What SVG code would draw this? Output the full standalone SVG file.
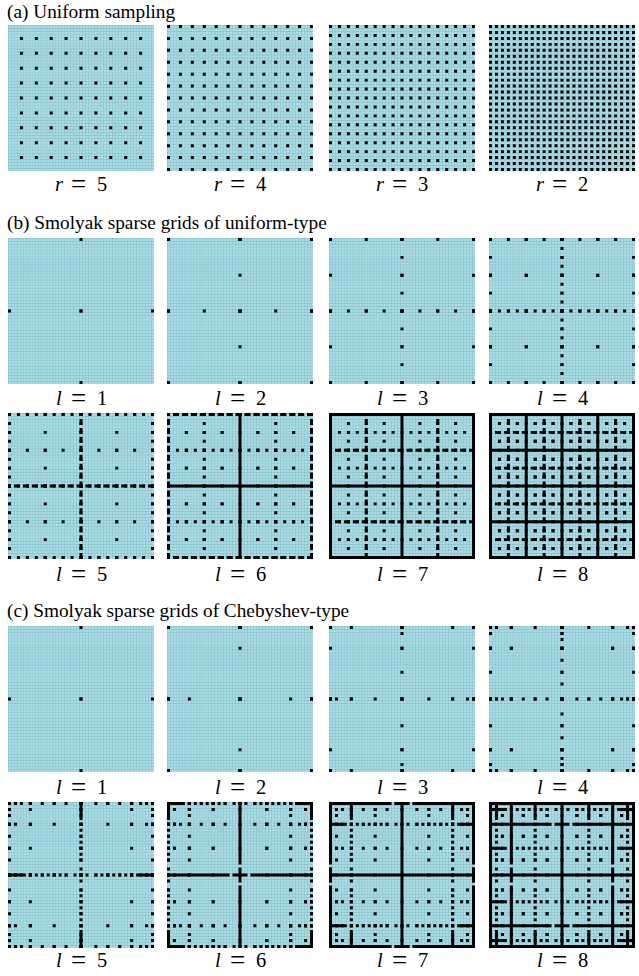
<svg xmlns="http://www.w3.org/2000/svg" xmlns:xlink="http://www.w3.org/1999/xlink" width="639" height="976" viewBox="0 0 639 976">
<defs>
<style>
.t{font-family:"Liberation Serif","Times New Roman",serif;font-size:19.3px;fill:#000}
.lab{font-family:"Liberation Serif","Times New Roman",serif;font-size:20.5px;fill:#000}
.v{font-style:italic}
.eq{font-size:27px}
.k{stroke:#000;stroke-width:1;fill:none}
.u2{stroke-dasharray:1 23 1 23 1 10}
.u3{stroke-dasharray:1 11}
.u4{stroke-dasharray:1 5}
.u5{stroke-dasharray:1 2}
.u6{stroke-dasharray:2 1;stroke-dashoffset:1}
.a5{stroke-dasharray:1 4}
.a4{stroke-dasharray:1 3}
.a2{stroke-dasharray:1 1}
.c3{stroke-dasharray:1 6 1 16 1 16 1 6 1 10}
.c4{stroke-dasharray:1 1 1 4 1 7 1 8 1 8 1 7 1 4 1 1 1 10}
.c5{stroke-dasharray:1 1 1 1 1 2 1 3 1 3 1 3 1 4 1 4 1 3 1 3 1 3 1 2 1 1 1 1 1 10}
.c6{stroke-dasharray:6 1 1 1 1 1 1 1 1 1 1 1 1 1 1 2 1 1 1 1 1 2 1 1 1 1 1 1 1 1 1 1 1 1 1 1 6 10}
.c7{stroke-dasharray:21 1 5 1 21 10}
</style>
<g id="mesh">
<rect width="49" height="49" fill="#a9dde6"/>
<line x1="0" y1="24.5" x2="49" y2="24.5" stroke="#80b8c2" stroke-width="49" stroke-dasharray="0.14 0.86"/>
<line x1="24.5" y1="0" x2="24.5" y2="49" stroke="#80b8c2" stroke-width="49" stroke-dasharray="0.14 0.86"/>
</g>
<line id="r2" class="k u2" x1="0" y1="0.5" x2="49" y2="0.5"/>
<line id="r3" class="k u3" x1="0" y1="0.5" x2="49" y2="0.5"/>
<line id="r4" class="k u4" x1="0" y1="0.5" x2="49" y2="0.5"/>
<line id="r5" class="k u5" x1="0" y1="0.5" x2="49" y2="0.5"/>
<line id="r6" class="k u6" x1="0" y1="0.5" x2="49" y2="0.5"/>
<line id="rs" class="k" x1="0" y1="0.5" x2="49" y2="0.5"/>
<line id="c3" class="k c3" x1="0" y1="0.5" x2="49" y2="0.5"/>
<line id="c4" class="k c4" x1="0" y1="0.5" x2="49" y2="0.5"/>
<line id="c5" class="k c5" x1="0" y1="0.5" x2="49" y2="0.5"/>
<line id="c6" class="k c6" x1="0" y1="0.5" x2="49" y2="0.5"/>
<line id="c7" class="k c7" x1="0" y1="0.5" x2="49" y2="0.5"/>
<line id="ra5" class="k a5" x1="4" y1="0.5" x2="45" y2="0.5"/>
<line id="ra4" class="k a4" x1="0" y1="0.5" x2="49" y2="0.5"/>
<line id="ra2" class="k a2" x1="0" y1="0.5" x2="49" y2="0.5"/>
<g id="ga5"><use href="#ra5" y="4"/><use href="#ra5" y="9"/><use href="#ra5" y="14"/><use href="#ra5" y="19"/><use href="#ra5" y="24"/><use href="#ra5" y="29"/><use href="#ra5" y="34"/><use href="#ra5" y="39"/><use href="#ra5" y="44"/></g>
<g id="ga4"><use href="#ra4" y="0"/><use href="#ra4" y="4"/><use href="#ra4" y="8"/><use href="#ra4" y="12"/><use href="#ra4" y="16"/><use href="#ra4" y="20"/><use href="#ra4" y="24"/><use href="#ra4" y="28"/><use href="#ra4" y="32"/><use href="#ra4" y="36"/><use href="#ra4" y="40"/><use href="#ra4" y="44"/><use href="#ra4" y="48"/></g>
<g id="ga3"><use href="#r5" y="0"/><use href="#r5" y="3"/><use href="#r5" y="6"/><use href="#r5" y="9"/><use href="#r5" y="12"/><use href="#r5" y="15"/><use href="#r5" y="18"/><use href="#r5" y="21"/><use href="#r5" y="24"/><use href="#r5" y="27"/><use href="#r5" y="30"/><use href="#r5" y="33"/><use href="#r5" y="36"/><use href="#r5" y="39"/><use href="#r5" y="42"/><use href="#r5" y="45"/><use href="#r5" y="48"/></g>
<g id="ga2"><use href="#ra2" y="0"/><use href="#ra2" y="2"/><use href="#ra2" y="4"/><use href="#ra2" y="6"/><use href="#ra2" y="8"/><use href="#ra2" y="10"/><use href="#ra2" y="12"/><use href="#ra2" y="14"/><use href="#ra2" y="16"/><use href="#ra2" y="18"/><use href="#ra2" y="20"/><use href="#ra2" y="22"/><use href="#ra2" y="24"/><use href="#ra2" y="26"/><use href="#ra2" y="28"/><use href="#ra2" y="30"/><use href="#ra2" y="32"/><use href="#ra2" y="34"/><use href="#ra2" y="36"/><use href="#ra2" y="38"/><use href="#ra2" y="40"/><use href="#ra2" y="42"/><use href="#ra2" y="44"/><use href="#ra2" y="46"/><use href="#ra2" y="48"/></g>
<g id="hb1"><use href="#r2" y="24"/></g>
<g id="hb2"><use href="#r3" y="24"/><use href="#r2" y="0"/><use href="#r2" y="24"/><use href="#r2" y="48"/></g>
<g id="hb3"><use href="#r4" y="24"/><use href="#r3" y="0"/><use href="#r3" y="24"/><use href="#r3" y="48"/></g>
<g id="hb4"><use href="#r5" y="24"/><use href="#r4" y="0"/><use href="#r4" y="24"/><use href="#r4" y="48"/><use href="#r3" y="0"/><use href="#r3" y="12"/><use href="#r3" y="24"/><use href="#r3" y="36"/><use href="#r3" y="48"/></g>
<g id="hb5"><use href="#r6" y="24"/><use href="#r5" y="0"/><use href="#r5" y="24"/><use href="#r5" y="48"/><use href="#r4" y="0"/><use href="#r4" y="12"/><use href="#r4" y="24"/><use href="#r4" y="36"/><use href="#r4" y="48"/></g>
<g id="hb6"><use href="#rs" y="24"/><use href="#r6" y="0"/><use href="#r6" y="48"/><use href="#r5" y="0"/><use href="#r5" y="12"/><use href="#r5" y="36"/><use href="#r5" y="48"/><use href="#r4" y="0"/><use href="#r4" y="6"/><use href="#r4" y="12"/><use href="#r4" y="18"/><use href="#r4" y="30"/><use href="#r4" y="36"/><use href="#r4" y="42"/><use href="#r4" y="48"/></g>
<g id="hb7"><use href="#rs" y="0"/><use href="#rs" y="24"/><use href="#rs" y="48"/><use href="#r6" y="12"/><use href="#r6" y="36"/><use href="#r5" y="6"/><use href="#r5" y="12"/><use href="#r5" y="18"/><use href="#r5" y="30"/><use href="#r5" y="36"/><use href="#r5" y="42"/></g>
<g id="hb8"><use href="#rs" y="0"/><use href="#rs" y="12"/><use href="#rs" y="24"/><use href="#rs" y="36"/><use href="#rs" y="48"/><use href="#r6" y="6"/><use href="#r6" y="18"/><use href="#r6" y="30"/><use href="#r6" y="42"/><use href="#r5" y="3"/><use href="#r5" y="6"/><use href="#r5" y="9"/><use href="#r5" y="15"/><use href="#r5" y="18"/><use href="#r5" y="21"/><use href="#r5" y="27"/><use href="#r5" y="30"/><use href="#r5" y="33"/><use href="#r5" y="39"/><use href="#r5" y="42"/><use href="#r5" y="45"/></g>
<g id="hc1"><use href="#r2" y="24"/></g>
<g id="hc2"><use href="#c3" y="24"/><use href="#r2" y="0"/><use href="#r2" y="24"/><use href="#r2" y="48"/></g>
<g id="hc3"><use href="#c4" y="24"/><use href="#c3" y="0"/><use href="#c3" y="24"/><use href="#c3" y="48"/></g>
<g id="hc4"><use href="#c5" y="24"/><use href="#c4" y="0"/><use href="#c4" y="24"/><use href="#c4" y="48"/><use href="#c3" y="0"/><use href="#c3" y="7"/><use href="#c3" y="24"/><use href="#c3" y="41"/><use href="#c3" y="48"/></g>
<g id="hc5"><use href="#c6" y="24"/><use href="#c5" y="0"/><use href="#c5" y="24"/><use href="#c5" y="48"/><use href="#c4" y="0"/><use href="#c4" y="7"/><use href="#c4" y="24"/><use href="#c4" y="41"/><use href="#c4" y="48"/></g>
<g id="hc6"><use href="#c7" y="24"/><use href="#c6" y="0"/><use href="#c6" y="48"/><use href="#c5" y="0"/><use href="#c5" y="7"/><use href="#c5" y="41"/><use href="#c5" y="48"/><use href="#c4" y="0"/><use href="#c4" y="2"/><use href="#c4" y="7"/><use href="#c4" y="15"/><use href="#c4" y="33"/><use href="#c4" y="41"/><use href="#c4" y="46"/><use href="#c4" y="48"/></g>
<g id="hc7"><use href="#rs" y="24"/><use href="#c7" y="0"/><use href="#c7" y="48"/><use href="#c6" y="0"/><use href="#c6" y="7"/><use href="#c6" y="41"/><use href="#c6" y="48"/><use href="#c5" y="0"/><use href="#c5" y="2"/><use href="#c5" y="7"/><use href="#c5" y="15"/><use href="#c5" y="33"/><use href="#c5" y="41"/><use href="#c5" y="46"/><use href="#c5" y="48"/></g>
<g id="hc8"><use href="#rs" y="0"/><use href="#rs" y="24"/><use href="#rs" y="48"/><use href="#c7" y="7"/><use href="#c7" y="41"/><use href="#c6" y="2"/><use href="#c6" y="15"/><use href="#c6" y="33"/><use href="#c6" y="46"/><use href="#c5" y="4"/><use href="#c5" y="11"/><use href="#c5" y="19"/><use href="#c5" y="29"/><use href="#c5" y="37"/><use href="#c5" y="44"/></g>
</defs>

<g id="titles">
<text class="t" x="7" y="18">(a) Uniform sampling</text>
<text class="t" x="7" y="229">(b) Smolyak sparse grids of uniform-type</text>
<text class="t" x="7" y="617">(c) Smolyak sparse grids of Chebyshev-type</text>
</g>

<g id="panel-a-r5" transform="translate(8,25) scale(2.9796)"><use href="#mesh"/><use href="#ga5"/></g>
<g id="panel-a-r4" transform="translate(167,25) scale(2.9796)"><use href="#mesh"/><use href="#ga4"/></g>
<g id="panel-a-r3" transform="translate(329,25) scale(2.9796)"><use href="#mesh"/><use href="#ga3"/></g>
<g id="panel-a-r2" transform="translate(489,25) scale(2.9796)"><use href="#mesh"/><use href="#ga2"/></g>

<g id="panel-b-l1" transform="translate(8,238) scale(2.9796)"><use href="#mesh"/><use href="#hb1"/><use href="#hb1" transform="matrix(0 1 1 0 0 0)"/></g>
<g id="panel-b-l2" transform="translate(167,238) scale(2.9796)"><use href="#mesh"/><use href="#hb2"/><use href="#hb2" transform="matrix(0 1 1 0 0 0)"/></g>
<g id="panel-b-l3" transform="translate(329,238) scale(2.9796)"><use href="#mesh"/><use href="#hb3"/><use href="#hb3" transform="matrix(0 1 1 0 0 0)"/></g>
<g id="panel-b-l4" transform="translate(489,238) scale(2.9796)"><use href="#mesh"/><use href="#hb4"/><use href="#hb4" transform="matrix(0 1 1 0 0 0)"/></g>
<g id="panel-b-l5" transform="translate(8,413) scale(2.9796)"><use href="#mesh"/><use href="#hb5"/><use href="#hb5" transform="matrix(0 1 1 0 0 0)"/></g>
<g id="panel-b-l6" transform="translate(167,413) scale(2.9796)"><use href="#mesh"/><use href="#hb6"/><use href="#hb6" transform="matrix(0 1 1 0 0 0)"/></g>
<g id="panel-b-l7" transform="translate(329,413) scale(2.9796)"><use href="#mesh"/><use href="#hb7"/><use href="#hb7" transform="matrix(0 1 1 0 0 0)"/></g>
<g id="panel-b-l8" transform="translate(489,413) scale(2.9796)"><use href="#mesh"/><use href="#hb8"/><use href="#hb8" transform="matrix(0 1 1 0 0 0)"/></g>

<g id="panel-c-l1" transform="translate(8,626) scale(2.9796)"><use href="#mesh"/><use href="#hc1"/><use href="#hc1" transform="matrix(0 1 1 0 0 0)"/></g>
<g id="panel-c-l2" transform="translate(167,626) scale(2.9796)"><use href="#mesh"/><use href="#hc2"/><use href="#hc2" transform="matrix(0 1 1 0 0 0)"/></g>
<g id="panel-c-l3" transform="translate(329,626) scale(2.9796)"><use href="#mesh"/><use href="#hc3"/><use href="#hc3" transform="matrix(0 1 1 0 0 0)"/></g>
<g id="panel-c-l4" transform="translate(489,626) scale(2.9796)"><use href="#mesh"/><use href="#hc4"/><use href="#hc4" transform="matrix(0 1 1 0 0 0)"/></g>
<g id="panel-c-l5" transform="translate(8,802) scale(2.9796)"><use href="#mesh"/><use href="#hc5"/><use href="#hc5" transform="matrix(0 1 1 0 0 0)"/></g>
<g id="panel-c-l6" transform="translate(167,802) scale(2.9796)"><use href="#mesh"/><use href="#hc6"/><use href="#hc6" transform="matrix(0 1 1 0 0 0)"/></g>
<g id="panel-c-l7" transform="translate(329,802) scale(2.9796)"><use href="#mesh"/><use href="#hc7"/><use href="#hc7" transform="matrix(0 1 1 0 0 0)"/></g>
<g id="panel-c-l8" transform="translate(489,802) scale(2.9796)"><use href="#mesh"/><use href="#hc8"/><use href="#hc8" transform="matrix(0 1 1 0 0 0)"/></g>

<g id="labels">
<text class="lab" y="191"><tspan class="v" x="55">r</tspan><tspan class="eq" x="71" dy="1.5">=</tspan><tspan x="97" dy="-1.5">5</tspan></text>
<text class="lab" y="191"><tspan class="v" x="214">r</tspan><tspan class="eq" x="230" dy="1.5">=</tspan><tspan x="256" dy="-1.5">4</tspan></text>
<text class="lab" y="191"><tspan class="v" x="376">r</tspan><tspan class="eq" x="392" dy="1.5">=</tspan><tspan x="418" dy="-1.5">3</tspan></text>
<text class="lab" y="191"><tspan class="v" x="536">r</tspan><tspan class="eq" x="552" dy="1.5">=</tspan><tspan x="578" dy="-1.5">2</tspan></text>
<text class="lab" y="405"><tspan class="v" x="56">l</tspan><tspan class="eq" x="71" dy="1.5">=</tspan><tspan x="97" dy="-1.5">1</tspan></text>
<text class="lab" y="405"><tspan class="v" x="215">l</tspan><tspan class="eq" x="230" dy="1.5">=</tspan><tspan x="256" dy="-1.5">2</tspan></text>
<text class="lab" y="405"><tspan class="v" x="377">l</tspan><tspan class="eq" x="392" dy="1.5">=</tspan><tspan x="418" dy="-1.5">3</tspan></text>
<text class="lab" y="405"><tspan class="v" x="537">l</tspan><tspan class="eq" x="552" dy="1.5">=</tspan><tspan x="578" dy="-1.5">4</tspan></text>
<text class="lab" y="581"><tspan class="v" x="56">l</tspan><tspan class="eq" x="71" dy="1.5">=</tspan><tspan x="97" dy="-1.5">5</tspan></text>
<text class="lab" y="581"><tspan class="v" x="215">l</tspan><tspan class="eq" x="230" dy="1.5">=</tspan><tspan x="256" dy="-1.5">6</tspan></text>
<text class="lab" y="581"><tspan class="v" x="377">l</tspan><tspan class="eq" x="392" dy="1.5">=</tspan><tspan x="418" dy="-1.5">7</tspan></text>
<text class="lab" y="581"><tspan class="v" x="537">l</tspan><tspan class="eq" x="552" dy="1.5">=</tspan><tspan x="578" dy="-1.5">8</tspan></text>
<text class="lab" y="794"><tspan class="v" x="56">l</tspan><tspan class="eq" x="71" dy="1.5">=</tspan><tspan x="97" dy="-1.5">1</tspan></text>
<text class="lab" y="794"><tspan class="v" x="215">l</tspan><tspan class="eq" x="230" dy="1.5">=</tspan><tspan x="256" dy="-1.5">2</tspan></text>
<text class="lab" y="794"><tspan class="v" x="377">l</tspan><tspan class="eq" x="392" dy="1.5">=</tspan><tspan x="418" dy="-1.5">3</tspan></text>
<text class="lab" y="794"><tspan class="v" x="537">l</tspan><tspan class="eq" x="552" dy="1.5">=</tspan><tspan x="578" dy="-1.5">4</tspan></text>
<text class="lab" y="967"><tspan class="v" x="56">l</tspan><tspan class="eq" x="71" dy="1.5">=</tspan><tspan x="97" dy="-1.5">5</tspan></text>
<text class="lab" y="967"><tspan class="v" x="215">l</tspan><tspan class="eq" x="230" dy="1.5">=</tspan><tspan x="256" dy="-1.5">6</tspan></text>
<text class="lab" y="967"><tspan class="v" x="377">l</tspan><tspan class="eq" x="392" dy="1.5">=</tspan><tspan x="418" dy="-1.5">7</tspan></text>
<text class="lab" y="967"><tspan class="v" x="537">l</tspan><tspan class="eq" x="552" dy="1.5">=</tspan><tspan x="578" dy="-1.5">8</tspan></text>
</g>
</svg>
